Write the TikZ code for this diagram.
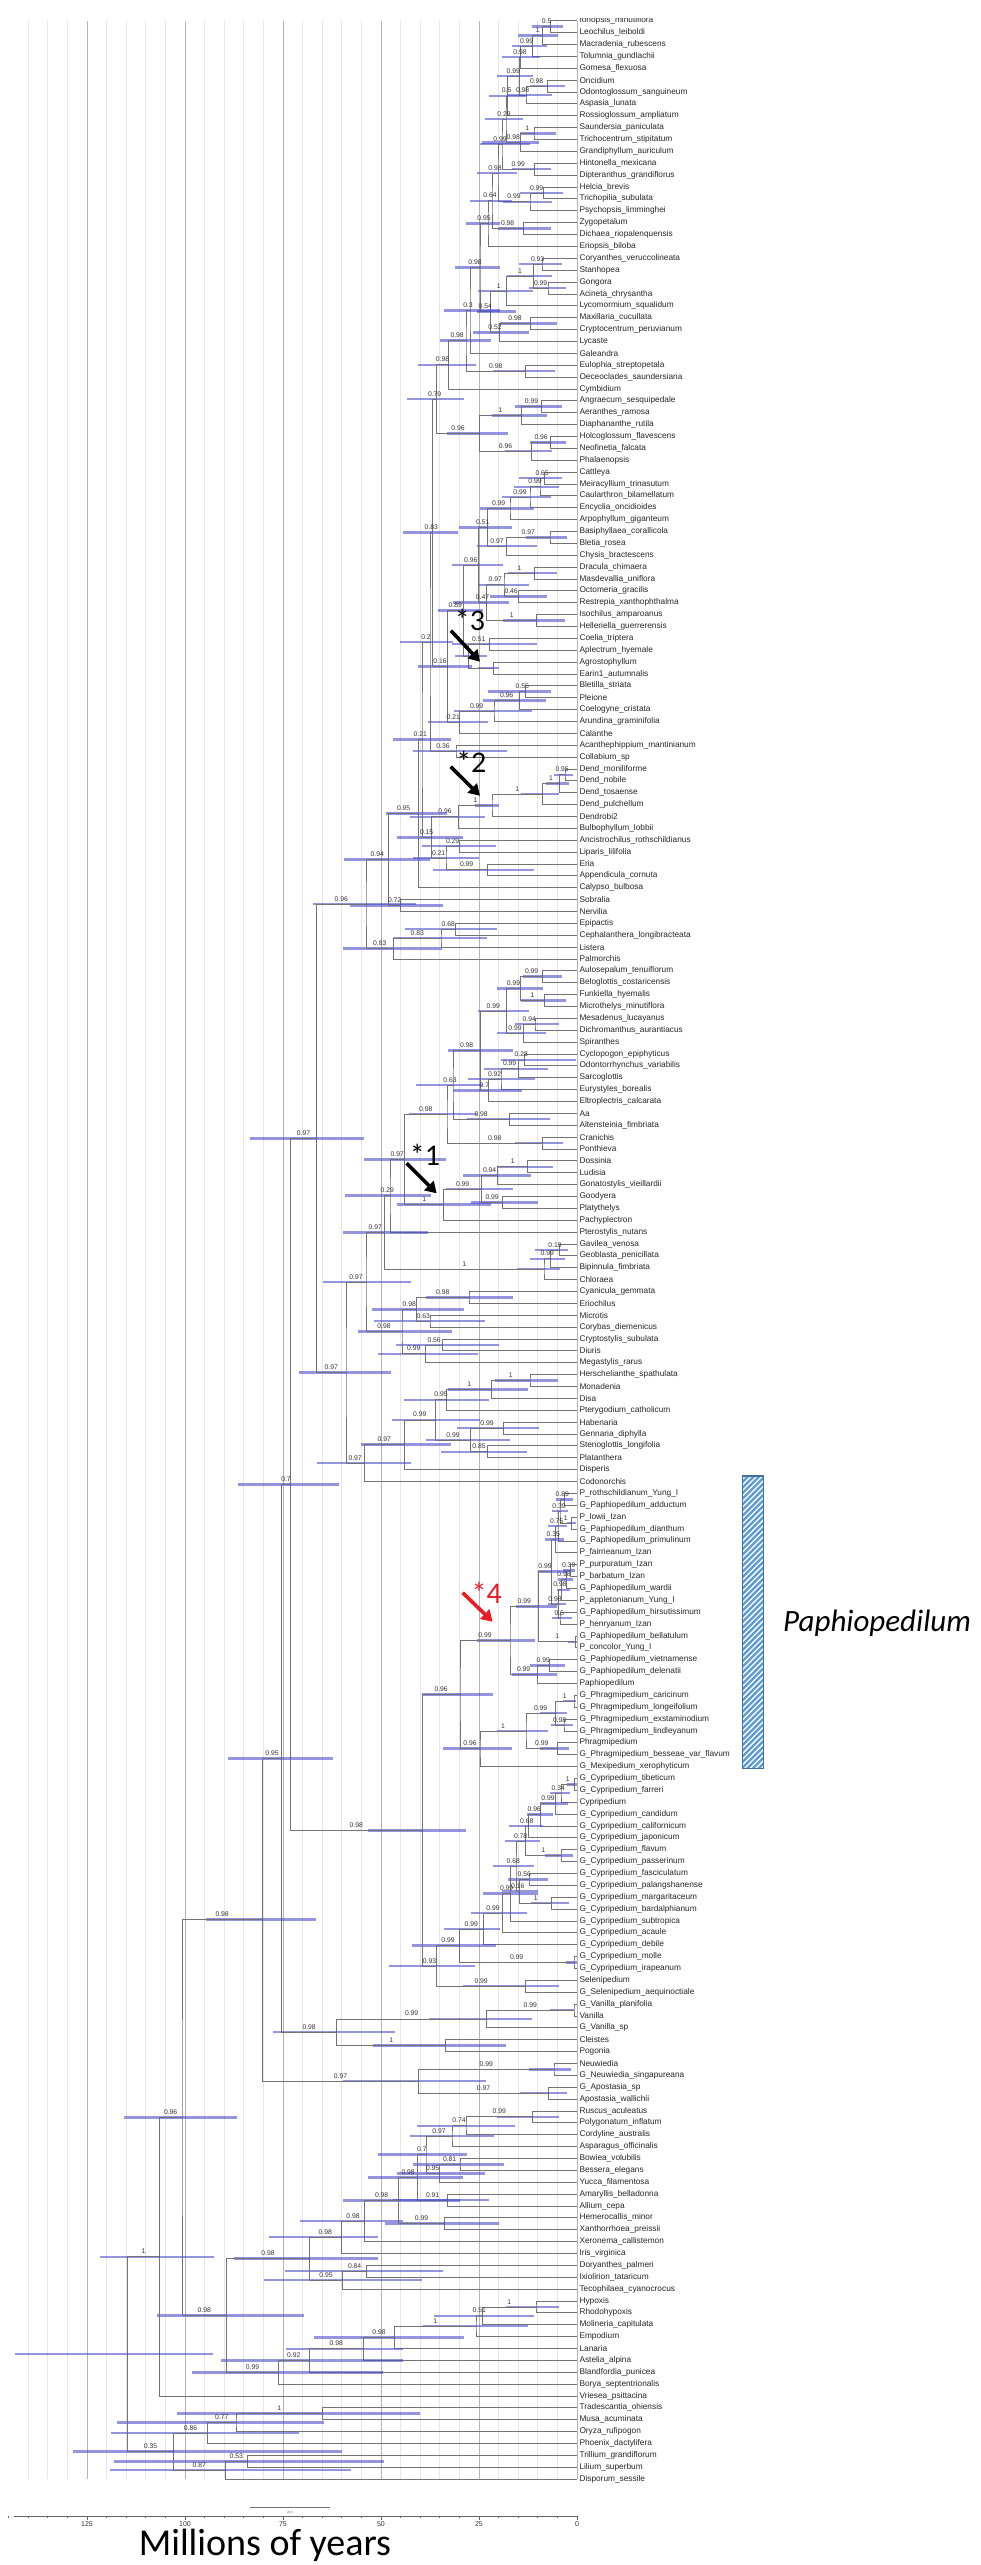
\documentclass[tikz,border=0pt]{standalone}
\usepackage{fontspec}
\setmainfont{Liberation Sans}
\newfontfamily\calibri{Carlito}
\usetikzlibrary{calc,arrows.meta}
\definecolor{hpdblue}{RGB}{72,72,205}
\definecolor{gridminor}{RGB}{230,230,230}
\definecolor{gridmajor}{RGB}{180,180,180}
\definecolor{hatchblue}{RGB}{91,155,213}
\definecolor{hatchframe}{RGB}{65,113,156}
\definecolor{starred}{RGB}{235,28,36}

% etichetta di supporto a meta' del ramo
\newcommand\suplabel[2]{%
  \ifcsname sup:#2\endcsname
    \node[support] at ($(#1 |- #2)!0.5!(#2)$) {\csname sup:#2\endcsname};%
  \fi}
% nodo interno: nome, x, figlio, figlio, supporto, barra sx, barra dx
\newcommand\clade[7]{%
  \path let \p1=(#3), \p2=(#4) in coordinate (#1) at ({#2pt/3}, {0.5*\y1+0.5*\y2});
  \draw[branch] (#3) -| (#1) |- (#4);
  \draw[hpd] (#6,0 |- #1) -- (#7,0 |- #1);
  \suplabel{#1}{#3}\suplabel{#1}{#4}%
  \expandafter\gdef\csname sup:#1\endcsname{#5}}

\begin{document}
\begin{tikzpicture}[
    x=0.33333pt, y=-1pt,
    branch/.style={draw=black!55, line width=0.7pt},
    hpd/.style={draw=hpdblue, line width=2.5pt, opacity=0.58},
    support/.style={anchor=south, inner sep=0pt, yshift=2.6pt, font=\fontsize{6.8}{7}\selectfont, text=black!80},
    taxon/.style={anchor=west, inner sep=0pt, font=\fontsize{8.3}{9}\selectfont, text=black!85},
    pointer/.style={line width=3.6pt, -{Triangle[length=11pt,width=13pt]}},
    starlabel/.style={font=\calibri\fontsize{30}{30}\selectfont, inner sep=0pt}
]
    \useasboundingbox (-900,0) rectangle (2043,2565);
    \fill[white] (-900,0) rectangle (2043,2565);

    % Griglia (ogni 5 Ma)
    \foreach \m in {0,...,28}
        \draw[gridminor, line width=0.8pt] ({831-58.8*\m}, 20.7) -- ({831-58.8*\m}, 2479);
    \foreach \m in {0,5,...,25}
        \draw[gridmajor, line width=0.8pt] ({831-58.8*\m}, 20.7) -- ({831-58.8*\m}, 2479);

    % Foglie
    \foreach \taxname [count=\i] in {
        Ionopsis_minutiflora, Leochilus_leiboldi, Macradenia_rubescens, Tolumnia_gundlachii,
        Gomesa_flexuosa, Oncidium, Odontoglossum_sanguineum, Aspasia_lunata,
        Rossioglossum_ampliatum, Saundersia_paniculata, Trichocentrum_stipitatum,
        Grandiphyllum_auriculum, Hintonella_mexicana, Dipteranthus_grandiflorus, Helcia_brevis,
        Trichopilia_subulata, Psychopsis_limminghei, Zygopetalum, Dichaea_riopalenquensis,
        Eriopsis_biloba, Coryanthes_veruccolineata, Stanhopea, Gongora, Acineta_chrysantha,
        Lycomormium_squalidum, Maxillaria_cucullata, Cryptocentrum_peruvianum, Lycaste,
        Galeandra, Eulophia_streptopetala, Oeceoclades_saundersiana, Cymbidium,
        Angraecum_sesquipedale, Aeranthes_ramosa, Diaphananthe_rutila, Holcoglossum_flavescens,
        Neofinetia_falcata, Phalaenopsis, Cattleya, Meiracyllium_trinasutum,
        Caularthron_bilamellatum, Encyclia_oncidioides, Arpophyllum_giganteum,
        Basiphyllaea_corallicola, Bletia_rosea, Chysis_bractescens, Dracula_chimaera,
        Masdevallia_uniflora, Octomeria_gracilis, Restrepia_xanthophthalma, Isochilus_amparoanus,
        Helleriella_guerrerensis, Coelia_triptera, Aplectrum_hyemale, Agrostophyllum,
        Earin1_autumnalis, Bletilla_striata, Pleione, Coelogyne_cristata, Arundina_graminifolia,
        Calanthe, Acanthephippium_mantinianum, Collabium_sp, Dend_moniliforme, Dend_nobile,
        Dend_tosaense, Dend_pulchellum, Dendrobi2, Bulbophyllum_lobbii,
        Ancistrochilus_rothschildianus, Liparis_lilifolia, Eria, Appendicula_cornuta,
        Calypso_bulbosa, Sobralia, Nervilia, Epipactis, Cephalanthera_longibracteata, Listera,
        Palmorchis, Aulosepalum_tenuiflorum, Beloglottis_costaricensis, Funkiella_hyemalis,
        Microthelys_minutiflora, Mesadenus_lucayanus, Dichromanthus_aurantiacus, Spiranthes,
        Cyclopogon_epiphyticus, Odontorrhynchus_variabilis, Sarcoglottis, Eurystyles_borealis,
        Eltroplectris_calcarata, Aa, Altensteinia_fimbriata, Cranichis, Ponthieva, Dossinia,
        Ludisia, Gonatostylis_vieillardii, Goodyera, Platythelys, Pachyplectron,
        Pterostylis_nutans, Gavilea_venosa, Geoblasta_penicillata, Bipinnula_fimbriata,
        Chloraea, Cyanicula_gemmata, Eriochilus, Microtis, Corybas_diemenicus,
        Cryptostylis_subulata, Diuris, Megastylis_rarus, Herschelianthe_spathulata, Monadenia,
        Disa, Pterygodium_catholicum, Habenaria, Gennaria_diphylla, Stenoglottis_longifolia,
        Platanthera, Disperis, Codonorchis, P_rothschildianum_Yung_I, G_Paphiopedilum_adductum,
        P_lowii_Izan, G_Paphiopedilum_dianthum, G_Paphiopedilum_primulinum, P_fairrieanum_Izan,
        P_purpuratum_Izan, P_barbatum_Izan, G_Paphiopedilum_wardii, P_appletonianum_Yung_I,
        G_Paphiopedilum_hirsutissimum, P_henryanum_Izan, G_Paphiopedilum_bellatulum,
        P_concolor_Yung_I, G_Paphiopedilum_vietnamense, G_Paphiopedilum_delenatii,
        Paphiopedilum, G_Phragmipedium_caricinum, G_Phragmipedium_longeifolium,
        G_Phragmipedium_exstaminodium, G_Phragmipedium_lindleyanum, Phragmipedium,
        G_Phragmipedium_besseae_var_flavum, G_Mexipedium_xerophyticum, G_Cypripedium_tibeticum,
        G_Cypripedium_farreri, Cypripedium, G_Cypripedium_candidum, G_Cypripedium_californicum,
        G_Cypripedium_japonicum, G_Cypripedium_flavum, G_Cypripedium_passerinum,
        G_Cypripedium_fasciculatum, G_Cypripedium_palangshanense, G_Cypripedium_margaritaceum,
        G_Cypripedium_bardalphianum, G_Cypripedium_subtropica, G_Cypripedium_acaule,
        G_Cypripedium_debile, G_Cypripedium_molle, G_Cypripedium_irapeanum, Selenipedium,
        G_Selenipedium_aequinoctiale, G_Vanilla_planifolia, Vanilla, G_Vanilla_sp, Cleistes,
        Pogonia, Neuwiedia, G_Neuwiedia_singapureana, G_Apostasia_sp, Apostasia_wallichii,
        Ruscus_aculeatus, Polygonatum_inflatum, Cordyline_australis, Asparagus_officinalis,
        Bowiea_volubilis, Bessera_elegans, Yucca_filamentosa, Amaryllis_belladonna, Allium_cepa,
        Hemerocallis_minor, Xanthorrhoea_preissii, Xeronema_callistemon, Iris_virginica,
        Doryanthes_palmeri, Ixiolirion_tataricum, Tecophilaea_cyanocrocus, Hypoxis,
        Rhodohypoxis, Molineria_capitulata, Empodium, Lanaria, Astelia_alpina,
        Blandfordia_punicea, Borya_septentrionalis, Vriesea_psittacina, Tradescantia_ohiensis,
        Musa_acuminata, Oryza_rufipogon, Phoenix_dactylifera, Trillium_grandiflorum,
        Lilium_superbum, Disporum_sessile} {
        \coordinate (t\i) at (831, {20.7+(\i-1)*11.876});
        \node[taxon] (L\i) at (838, {20.7+(\i-1)*11.876}) {\expandafter\detokenize\expandafter{\taxname}};
    }

    % Epidendroideae
    \clade{cA}{752}{t1}{t2}{0.5}{695}{790}
    \clade{cB}{728}{cA}{t3}{1}{655}{775}
    \clade{cC}{698}{cB}{t4}{0.99}{636}{742}
    \clade{cD}{662}{cC}{t5}{0.98}{607}{720}
    \clade{cE}{742}{t6}{t7}{0.98}{690}{795}
    \clade{cF}{678}{cE}{t8}{0.98}{625}{755}
    \clade{cG}{658}{cD}{cF}{0.99}{592}{700}
    \clade{cH}{622}{cG}{t9}{0.5}{567}{680}
    \clade{cI}{702}{t10}{t11}{1}{660}{768}
    \clade{cJ}{662}{cI}{t12}{0.98}{545}{718}
    \clade{cK}{618}{cH}{cJ}{0.29}{555}{668}
    \clade{cL}{704}{t13}{t14}{0.99}{635}{752}
    \clade{cM}{606}{cK}{cL}{0.99}{540}{690}
    \clade{cO}{730}{t15}{t16}{0.99}{660}{790}
    \clade{cP}{690}{cO}{t17}{0.99}{610}{755}
    \clade{cN}{594}{cM}{cP}{0.98}{532}{650}
    \clade{cQ}{670}{t18}{t19}{0.98}{593}{752}
    \clade{cR}{576}{cN}{cQ}{0.64}{510}{635}
    \clade{cS}{564}{cR}{t20}{0.95}{497}{600}
    \clade{cU}{726}{t21}{t22}{0.93}{657}{785}
    \clade{cW}{744}{t23}{t24}{0.99}{688}{798}
    \clade{cV}{700}{cU}{cW}{1}{622}{757}
    \clade{cX}{620}{cV}{t25}{1}{535}{700}
    \clade{cY}{692}{t26}{t27}{0.98}{600}{772}
    \clade{cZ}{598}{cY}{t28}{0.52}{520}{688}
    \clade{cAA}{572}{cX}{cZ}{0.54}{530}{648}
    \clade{cT}{540}{cS}{cAA}{0.98}{465}{600}
    \clade{cAB}{510}{cT}{t29}{0.3}{432}{600}
    \clade{cAD}{677}{t30}{t31}{0.98}{578}{765}
    \clade{cAC}{498}{cAB}{cAD}{0.98}{420}{572}
    \clade{cAE}{445}{cAC}{t32}{0.98}{355}{528}
    \clade{cAJ}{724}{t33}{t34}{0.99}{645}{787}
    \clade{cAH}{665}{cAJ}{t35}{1}{575}{740}
    \clade{cAK}{752}{t36}{t37}{0.96}{690}{797}
    \clade{cAI}{695}{cAK}{t38}{0.96}{615}{757}
    \clade{cAG}{538}{cAH}{cAI}{0.96}{440}{625}
    \clade{cAF}{410}{cAE}{cAG}{0.79}{320}{492}
    \clade{cAL}{733}{t39}{t40}{0.65}{658}{787}
    \clade{cAM}{720}{cAL}{t41}{0.99}{643}{778}
    \clade{cAN}{690}{cAM}{t42}{0.99}{605}{752}
    \clade{cAO}{630}{cAN}{t43}{0.99}{540}{703}
    \clade{cAP}{750}{t44}{t45}{0.97}{678}{800}
    \clade{cAQ}{620}{cAP}{t46}{0.97}{530}{712}
    \clade{cAR}{562}{cAO}{cAQ}{0.51}{478}{635}
    \clade{cAT}{703}{t47}{t48}{1}{625}{770}
    \clade{cXo}{655}{t49}{t50}{0.46}{570}{742}
    \clade{cAU}{612}{cAT}{cXo}{0.97}{537}{686}
    \clade{cAY}{710}{t51}{t52}{1}{610}{795}
    \clade{cAW}{560}{cAU}{cAY}{0.47}{460}{628}
    \clade{cAV}{535}{cAR}{cAW}{0.96}{455}{608}
    \clade{cBA}{568}{t53}{t54}{0.51}{455}{712}
    \clade{cBB}{580}{t55}{t56}{}{535}{597}
    \clade{cBC}{505}{cBA}{cBB}{}{465}{560}
    \clade{cAZ}{490}{cAV}{cBC}{0.89}{415}{550}
    \clade{cBE}{676}{t57}{t58}{0.55}{565}{752}
    \clade{cBF}{658}{cBE}{t59}{0.96}{548}{738}
    \clade{cBG}{582}{cBF}{t60}{0.99}{462}{695}
    \clade{cBH}{478}{cBG}{t61}{0.21}{383}{565}
    \clade{cBD}{442}{cAZ}{cBH}{0.16}{355}{515}
    \clade{cAS}{398}{cAF}{cBD}{0.83}{310}{475}
    \clade{cBX}{468}{t62}{t63}{0.36}{340}{620}
    \clade{cBT}{390}{cAS}{cBX}{0.2}{300}{460}
    \clade{cDa}{795}{t64}{t65}{0.95}{762}{818}
    \clade{cDb}{778}{cDa}{t66}{1}{738}{808}
    \clade{cDc}{728}{cDb}{t67}{1}{662}{778}
    \clade{cDd}{576}{cDc}{t68}{1}{525}{597}
    \clade{cBU}{476}{cDd}{t69}{0.96}{330}{555}
    \clade{cBL}{478}{t70}{t71}{0.29}{365}{588}
    \clade{cBR}{562}{t72}{t73}{0.99}{398}{702}
    \clade{cBM}{438}{cBL}{cBR}{0.21}{340}{537}
    \clade{cBN}{394}{cBU}{cBM}{0.15}{290}{490}
    \clade{cCA}{366}{cBT}{cBN}{0.21}{280}{452}
    \clade{cBP}{356}{cCA}{t74}{0.95}{258}{442}
    \clade{cBS}{302}{t75}{t76}{0.72}{150}{428}
    \clade{cBQ}{266}{cBP}{cBS}{0.94}{132}{390}
    \clade{cBY}{467}{t77}{t78}{0.68}{315}{592}
    \clade{cBZ}{423}{cBY}{t79}{0.83}{278}{560}
    \clade{cBW}{281}{cBZ}{t80}{0.83}{128}{425}
    \clade{cEP}{198}{cBQ}{cBW}{0.96}{40}{348}

    % Orchidoideae
    \clade{cC1}{728}{t81}{t82}{0.99}{668}{785}
    \clade{cC2}{733}{t83}{t84}{1}{663}{797}
    \clade{cC3}{662}{cC1}{cC2}{0.99}{592}{728}
    \clade{cC4}{705}{t85}{t86}{0.94}{645}{777}
    \clade{cC5}{671}{cC4}{t87}{0.99}{590}{737}
    \clade{cC6}{619}{cC3}{cC5}{0.99}{535}{688}
    \clade{cC7}{673}{t88}{t89}{0.28}{603}{828}
    \clade{cC8}{655}{cC7}{t90}{0.99}{553}{745}
    \clade{cC9}{603}{cC8}{t91}{0.92}{503}{705}
    \clade{cC10}{565}{cC9}{t92}{0.7}{460}{665}
    \clade{cC11}{541}{cC6}{cC10}{0.98}{445}{638}
    \clade{cC12}{628}{t93}{t94}{0.98}{500}{750}
    \clade{cC13}{459}{cC11}{cC12}{0.63}{347}{548}
    \clade{cC14}{728}{t95}{t96}{0.98}{645}{790}
    \clade{cC15}{441}{cC13}{cC14}{0.98}{328}{530}
    \clade{cC16}{683}{t97}{t98}{1}{595}{758}
    \clade{cC17}{593}{cC16}{t99}{0.94}{488}{693}
    \clade{cC18}{608}{t100}{t101}{0.99}{512}{715}
    \clade{cC19}{545}{cC17}{cC18}{0.99}{437}{638}
    \clade{cC20}{431}{cC19}{t102}{1}{290}{572}
    \clade{cC21}{314}{cC15}{cC20}{0.97}{192}{437}
    \clade{cC22}{270}{cC21}{t103}{0.29}{135}{392}
    \clade{cD1}{778}{t104}{t105}{0.19}{705}{803}
    \clade{cD2}{752}{cD1}{t106}{0.99}{690}{795}
    \clade{cD3}{732}{cD2}{t107}{1}{652}{780}
    \clade{cC23}{254}{cC22}{cD3}{0.97}{128}{385}
    \clade{cD4}{507}{t108}{t109}{0.98}{378}{640}
    \clade{cD5}{390}{t110}{t111}{0.63}{222}{555}
    \clade{cD6}{350}{cD4}{cD5}{0.98}{215}{492}
    \clade{cD7}{428}{t112}{t113}{0.56}{288}{596}
    \clade{cD8}{377}{cD7}{t114}{0.99}{233}{535}
    \clade{cD9}{306}{cD6}{cD8}{0.98}{173}{455}
    \clade{cD10}{198}{cC23}{cD9}{0.97}{68}{333}
    \clade{cD17}{690}{t115}{t116}{1}{585}{773}
    \clade{cD16}{575}{cD17}{t117}{1}{445}{683}
    \clade{cD15}{440}{cD16}{t118}{0.95}{312}{567}
    \clade{cD19}{610}{t119}{t120}{0.99}{472}{717}
    \clade{cD20}{562}{t121}{t122}{0.85}{422}{680}
    \clade{cD18}{512}{cD19}{cD20}{0.99}{377}{630}
    \clade{cD14}{406}{cD15}{cD18}{0.99}{275}{540}
    \clade{cD13}{313}{cD14}{t123}{0.97}{183}{452}
    \clade{cD12}{193}{cD13}{t124}{0.97}{52}{333}
    \clade{cD11}{138}{cD10}{cD12}{0.97}{-3}{272}
    \clade{cPA}{50}{cEP}{cD11}{0.97}{-150}{193}

    % Cypripedioideae
    \clade{cE1}{794}{t125}{t126}{0.89}{767}{818}
    \clade{cE2}{814}{t127}{t128}{1}{800}{828}
    \clade{cE3}{780}{cE1}{cE2}{0.39}{757}{805}
    \clade{cE4}{774}{cE3}{t129}{0.75}{745}{800}
    \clade{cE5}{766}{cE4}{t130}{0.35}{735}{792}
    \clade{cE8}{812}{t131}{t132}{0.39}{790}{825}
    \clade{cE9}{800}{cE8}{t133}{0.98}{775}{820}
    \clade{cE10}{784}{cE9}{t134}{0.98}{770}{810}
    \clade{cE11}{780}{t135}{t136}{0.5}{755}{815}
    \clade{cE12}{776}{cE10}{cE11}{0.98}{745}{797}
    \clade{cE13}{754}{cE5}{cE12}{0.99}{715}{800}
    \clade{cE15}{827}{t137}{t138}{1}{805}{830}
    \clade{cE14}{716}{cE13}{cE15}{0.99}{648}{770}
    \clade{cE16}{748}{t139}{t140}{0.99}{690}{795}
    \clade{cE17}{712}{cE16}{t141}{0.99}{635}{770}
    \clade{cE18}{630}{cE14}{cE17}{0.99}{530}{705}
    \clade{cE24}{822}{t142}{t143}{1}{790}{828}
    \clade{cE25}{792}{t144}{t145}{0.98}{752}{818}
    \clade{cE23}{766}{cE24}{cE25}{0.99}{720}{800}
    \clade{cE26}{773}{t146}{t147}{0.99}{720}{808}
    \clade{cE22}{678}{cE23}{cE26}{1}{592}{745}
    \clade{cE21}{540}{cE22}{t148}{0.96}{430}{635}
    \clade{cE20}{480}{cE18}{cE21}{0.96}{367}{580}
    \clade{cF1}{823}{t149}{t150}{1}{800}{830}
    \clade{cF2}{783}{cF1}{t151}{0.34}{750}{810}
    \clade{cF3}{767}{cF2}{t152}{0.99}{720}{803}
    \clade{cF4}{721}{cF3}{t153}{0.96}{680}{760}
    \clade{cF5}{685}{cF4}{t154}{0.68}{628}{730}
    \clade{cF6}{783}{t155}{t156}{1}{735}{820}
    \clade{cF7}{676}{cF5}{cF6}{0.78}{615}{720}
    \clade{cF9}{687}{t157}{t158}{0.56}{625}{745}
    \clade{cF11}{755}{t159}{t160}{1}{693}{808}
    \clade{cF12}{659}{cF9}{cF11}{0.16}{605}{713}
    \clade{cF8}{648}{cF7}{cF12}{0.68}{580}{703}
    \clade{cF13}{632}{cF8}{t161}{0.99}{548}{713}
    \clade{cF14}{608}{cF13}{t162}{0.99}{513}{680}
    \clade{cF15}{550}{cF14}{t163}{0.99}{432}{600}
    \clade{cF16}{822}{t164}{t165}{0.99}{797}{830}
    \clade{cF17}{478}{cF15}{cF16}{0.99}{335}{588}
    \clade{cF18}{677}{t166}{t167}{0.99}{488}{778}
    \clade{cF19}{410}{cF17}{cF18}{0.93}{268}{525}
    \clade{cE27}{367}{cE20}{cF19}{0.98}{205}{498}

    % Vanilloideae, Apostasioideae, altre monocotiledoni
    \clade{cG1}{822}{t168}{t169}{0.99}{750}{822}
    \clade{cG2}{560}{cG1}{t170}{0.99}{388}{697}
    \clade{cG3}{437}{t171}{t172}{1}{220}{618}
    \clade{cG4}{110}{cG2}{cG3}{0.98}{-82}{285}
    \clade{cG5}{762}{t173}{t174}{0.99}{688}{812}
    \clade{cG6}{745}{t175}{t176}{0.97}{660}{800}
    \clade{cG7}{356}{cG5}{cG6}{0.97}{128}{557}
    \clade{cG8}{698}{t177}{t178}{0.99}{592}{778}
    \clade{cG9}{498}{cG8}{t179}{0.74}{350}{645}
    \clade{cG10}{456}{cG9}{t180}{0.97}{330}{582}
    \clade{cG11}{480}{t181}{t182}{0.81}{340}{612}
    \clade{cG12}{418}{cG11}{t183}{0.95}{290}{555}
    \clade{cG13}{378}{cG10}{cG12}{0.7}{235}{502}
    \clade{cG14}{443}{t184}{t185}{0.91}{280}{567}
    \clade{cG15}{353}{cG13}{cG14}{0.98}{205}{488}
    \clade{cG16}{433}{t186}{t187}{0.99}{255}{598}
    \clade{cG17}{296}{cG15}{cG16}{0.98}{128}{480}
    \clade{cG18}{194}{cG17}{t188}{0.98}{0}{308}
    \clade{cG19}{124}{cG18}{t189}{0.98}{-93}{234}
    \clade{cG20}{200}{t190}{t191}{0.84}{-45}{429}
    \clade{cG21}{128}{cG20}{t192}{0.95}{-108}{365}
    \clade{cG22}{28}{cG19}{cG21}{0.98}{-198}{234}
    \clade{cG23}{708}{t193}{t194}{1}{617}{778}
    \clade{cG24}{548}{cG23}{t195}{0.51}{403}{702}
    \clade{cG25}{528}{cG24}{t196}{1}{370}{683}
    \clade{cG26}{284}{cG25}{t197}{0.98}{43}{492}
    \clade{cG27}{190}{cG26}{t198}{0.98}{-42}{309}
    \clade{cG28}{28}{cG27}{t199}{0.92}{-237}{309}
    \clade{cG29}{-65}{cG28}{t200}{0.99}{-323}{250}

    % Nodi profondi
    \clade{cH5}{-29}{cPA}{cE27}{0.7}{-187}{117}
    \clade{cH1}{-55}{cH5}{cG4}{0.95}{-215}{98}
    \clade{cH3}{-113}{cH1}{cG7}{0.98}{-283}{48}
    \clade{cH7}{-220}{cG22}{cG29}{0.98}{-430}{11}
    \clade{cH6}{-354}{cH3}{cH7}{0.96}{-527}{-190}
    \clade{cH9}{-422}{cH6}{t201}{1}{-600}{-258}
    \clade{cH12}{68}{t202}{t203}{1}{-369}{360}
    \clade{cH13}{-192}{cH12}{t204}{0.77}{-548}{72}
    \clade{cH14}{-277}{cH13}{t205}{0.86}{-567}{-2}
    \clade{cH16}{-158}{t206}{t207}{0.53}{-558}{252}
    \clade{cH15}{-224}{cH16}{t208}{0.87}{-570}{152}
    \clade{cH11}{-380}{cH14}{cH15}{0.35}{-680}{127}
    \clade{root}{-517}{cH9}{cH11}{}{-855}{-262}

    % margine superiore tagliato
    \fill[white] (-900,0) rectangle (2043,17.6);

    % Frecce e asterischi
    \draw[pointer] (453,630.7) -- (540,661.7);
    \node[starlabel] (s3) at (510,620) {*3};
    \draw[pointer] (452,766.7) -- (540,795.7);
    \node[starlabel] (s2) at (514,761.7) {*2};
    \draw[pointer] (320,1163.3) -- (410,1193.3);
    \node[starlabel] (s1) at (375,1155) {*1};
    \draw[pointer, draw=starred] (488,1592.7) -- (578,1621.7);
    \node[starlabel, text=starred] (s4) at (560,1593) {*4};

    % Barra Paphiopedilum
    \begin{scope}
        \clip (1327,1475.7) rectangle (1390,1768.3);
        \foreach \k in {0,...,56}
            \draw[hatchblue, line width=2.3pt] (1300, {1480+\k*5.6}) -- ++(120,-40);
    \end{scope}
    \draw[hatchframe, line width=1.6pt] (1327,1475.7) rectangle (1390,1768.3);
    \node[anchor=west, inner sep=0pt, font=\calibri\itshape\fontsize{31}{31}\selectfont] (paph) at (1449,1623) {Paphiopedilum};

    % Asse temporale
    \draw[branch] (-150,2507.5) -- (90,2507.5);
    \node[inner sep=0pt, font=\fontsize{3}{3}\selectfont, text=black!60] at (-30,2512) {20.0};
    \draw[black!60, line width=0.8pt] (-858,2516) -- (831,2516);
    \foreach \m in {0,...,29}
        \draw[black!60, line width=0.6pt] ({831-58.8*\m},2516) -- ++(0,2);
    \foreach \v in {0,25,...,125}
        \draw[black!60, line width=0.8pt] ({831-11.76*\v},2516) -- ++(0,3.5)
            node[below=2pt, inner sep=0pt, font=\fontsize{7}{7}\selectfont, text=black!80] {\v};
    \node[anchor=base, font=\calibri\fontsize{38}{38}\selectfont, inner sep=0pt] (myr) at (-105,2555) {Millions of years};
\end{tikzpicture}
\end{document}
